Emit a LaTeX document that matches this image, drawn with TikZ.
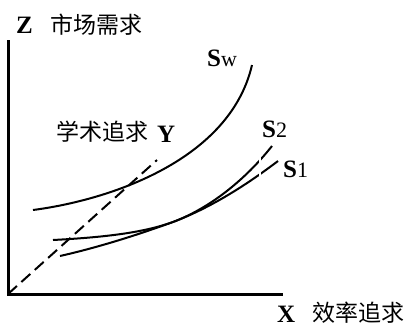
\documentclass[tikz,border=0pt]{standalone}
\usepackage{fontspec}
\setmainfont{Liberation Serif}
\newfontfamily\cjk{Noto Sans CJK SC}
\tikzset{
  lbl/.style={anchor=base west, inner sep=0pt, font=\fontsize{25}{27}\selectfont\bfseries},
  cjklbl/.style={anchor=base west, inner sep=0pt, font=\fontsize{23}{25}\selectfont\cjk},
  axis/.style={line width=3pt},
  curve/.style={line width=2pt},
}
\newcommand{\subtxt}[1]{{\mdseries\fontsize{22}{24}\selectfont #1}}
\begin{document}
\begin{tikzpicture}[x=1pt,y=-1pt]
\useasboundingbox (0,0) rectangle (408,327);
\coordinate (O) at (8,294);
\coordinate (ztop) at (8,40);
\coordinate (xend) at (283,294);
\coordinate (yend) at (157,160);
\draw[axis] (ztop) -- (O) -- (xend);
\draw[curve, dash pattern=on 12pt off 6pt] (O) -- (yend);
% Sw
\draw[curve] (33,210) .. controls (110,200) and (230,160) .. (252,65);
% S2 and S1
\draw[curve] (53,240) .. controls (110,237) and (145,232) .. (173,222) .. controls (210,208) and (245,180) .. (272,146);
\draw[curve] (60,256) .. controls (100,247) and (140,234) .. (173,222) .. controls (210,208) and (245,186) .. (278,161);
\draw[white, line width=2.5pt] (260,150) -- (260,180);
\node[lbl] (z) at (16,33) {Z};
\node[cjklbl] (zname) at (50,33) {市场需求};
\node[lbl] (x) at (277,322) {X};
\node[cjklbl] (xname) at (312,321) {效率追求};
\node[cjklbl] (yname) at (56,140) {学术追求};
\node[lbl] (y) at (157,142) {Y};
\node[lbl] (sw) at (207,66) {S\subtxt{w}};
\node[lbl] (s2) at (262,137) {S\subtxt{2}};
\node[lbl] (s1) at (283,177) {S\subtxt{1}};
\end{tikzpicture}
\end{document}
